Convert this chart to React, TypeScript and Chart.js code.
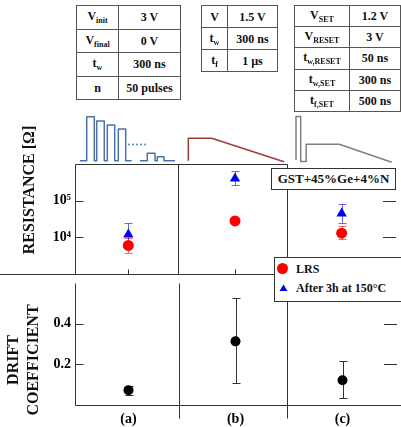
import React, { useEffect, useRef } from 'react';
import { Chart, registerables } from 'chart.js';
Chart.register(...registerables);

// ---------- data ----------
const categories = ['(a)', '(b)', '(c)'];
const categoryX = [0.5, 1.5, 2.5];
const panelDividers = [0.97, 1.985];

const lrsValues = [6000, 28000, 13000];
const lrsLow = [3800, 25500, 8800];
const lrsHigh = [9500, 31000, 20000];

const afterValues = [12000, 400000, 45000];
const afterLow = [7000, 270000, 25000];
const afterHigh = [25000, 660000, 82000];

const driftValues = [0.073, 0.313, 0.122];
const driftLow = [0.051, 0.107, 0.035];
const driftHigh = [0.094, 0.525, 0.218];

const resistanceTicks = [1e4, 1e5];
const resistanceTickLabels = ['10\u2074', '10\u2075'];
const driftTicks = [0.2, 0.4];
const driftTickLabels = ['0.2', '0.4'];

const table1Labels = [['V', 'init'], ['V', 'final'], ['t', 'w'], ['n', '']];
const table1Values = ['3 V', '0 V', '300 ns', '50 pulses'];
const table2Labels = [['V', ''], ['t', 'w'], ['t', 'f']];
const table2Values = ['1.5 V', '300 ns', '1 \u00b5s'];
const table3Labels = [['V', 'SET'], ['V', 'RESET'], ['t', 'w,RESET'], ['t', 'w,SET'], ['t', 'f,SET']];
const table3Values = ['1.2 V', '3 V', '50 ns', '300 ns', '500 ns'];

const legendLabels = ['LRS', 'After 3h at 150\u00b0C'];
const materialLabel = 'GST+45%Ge+4%N';

// ---------- styles ----------
const SERIF = "'Liberation Serif', 'Times New Roman', serif";
const LINE = '#333';

const errorBarPlugin = {
  id: 'errorBars',
  beforeDatasetsDraw(chart: any) {
    const ctx = chart.ctx;
    chart.data.datasets.forEach((ds: any, i: number) => {
      if (!ds.errLow) return;
      const meta = chart.getDatasetMeta(i);
      const ys = chart.scales.y;
      ctx.save();
      ctx.strokeStyle = ds.errColor;
      ctx.lineWidth = 1;
      meta.data.forEach((pt: any, j: number) => {
        const x = Math.round(pt.x) + 0.5;
        const y1 = Math.round(ys.getPixelForValue(ds.errLow[j])) + 0.5;
        const y2 = Math.round(ys.getPixelForValue(ds.errHigh[j])) + 0.5;
        ctx.beginPath();
        ctx.moveTo(x, y1);
        ctx.lineTo(x, y2);
        ctx.moveTo(x - 4, y1);
        ctx.lineTo(x + 4, y1);
        ctx.moveTo(x - 4, y2);
        ctx.lineTo(x + 4, y2);
        ctx.stroke();
      });
      ctx.restore();
    });
  },
};

function makeFramePlugin(kind: 'upper' | 'lower') {
  return {
    id: 'frame_' + kind,
    afterDraw(chart: any) {
      const ctx = chart.ctx;
      const { left, right, top, bottom } = chart.chartArea;
      const xs = chart.scales.x;
      const ys = chart.scales.y;
      const px = (v: number) => Math.round(v) + 0.5;
      ctx.save();
      ctx.strokeStyle = LINE;
      ctx.lineWidth = 1;
      ctx.beginPath();
      const d = panelDividers.map((v) => px(xs.getPixelForValue(v)));
      const L = px(left);
      if (kind === 'upper') {
        ctx.moveTo(L, px(top));
        ctx.lineTo(d[1], px(top));
        ctx.moveTo(L, px(top));
        ctx.lineTo(L, px(bottom));
        d.forEach((x) => {
          ctx.moveTo(x, px(top));
          ctx.lineTo(x, px(bottom));
        });
        ctx.moveTo(0, px(bottom));
        ctx.lineTo(chart.width, px(bottom));
        categoryX.forEach((v) => {
          const x = px(xs.getPixelForValue(v));
          ctx.moveTo(x, px(bottom) - 5);
          ctx.lineTo(x, px(bottom));
        });
      } else {
        ctx.moveTo(L, px(top));
        ctx.lineTo(L, px(bottom));
        ctx.moveTo(L, px(bottom));
        ctx.lineTo(chart.width, px(bottom));
        d.forEach((x) => {
          ctx.moveTo(x, px(top));
          ctx.lineTo(x, px(bottom) + 13);
        });
      }
      ys.ticks.forEach((t: any) => {
        const y = px(ys.getPixelForValue(t.value));
        ctx.moveTo(L, y);
        ctx.lineTo(L + 8, y);
        ctx.moveTo(right - 12, y);
        ctx.lineTo(right + 1, y);
      });
      ctx.stroke();
      ctx.restore();
    },
  };
}

function fixWidth(w: number) {
  return (scale: any) => {
    scale.width = w;
    scale.paddingTop = 0;
    scale.paddingBottom = 0;
    scale.paddingLeft = 0;
    scale.paddingRight = 0;
  };
}
function fixHeight(h: number) {
  return (scale: any) => {
    scale.height = h;
    scale.paddingTop = 0;
    scale.paddingBottom = 0;
    scale.paddingLeft = 0;
    scale.paddingRight = 0;
  };
}

const tickFont = { family: SERIF, size: 14, weight: 'bold' as const };

function UpperChart() {
  const ref = useRef<HTMLCanvasElement>(null);
  useEffect(() => {
    const chart = new Chart(ref.current!, {
      type: 'scatter',
      data: {
        datasets: [
          {
            label: legendLabels[0],
            data: categoryX.map((x, i) => ({ x, y: lrsValues[i] })),
            pointStyle: 'circle',
            pointRadius: 5.5,
            backgroundColor: '#ff0000',
            borderColor: '#ff0000',
            borderWidth: 0,
            errLow: lrsLow,
            errHigh: lrsHigh,
            errColor: 'rgba(255,40,40,0.7)',
          } as any,
          {
            label: legendLabels[1],
            data: categoryX.map((x, i) => ({ x, y: afterValues[i] })),
            pointStyle: 'triangle',
            pointRadius: 6,
            backgroundColor: '#0000ff',
            borderColor: '#0000ff',
            borderWidth: 0,
            errLow: afterLow,
            errHigh: afterHigh,
            errColor: 'rgba(40,40,255,0.7)',
          } as any,
        ],
      },
      options: {
        animation: false,
        responsive: false,
        events: [],
        layout: { padding: { left: 0, right: 1, top: 14, bottom: 2 } },
        plugins: { legend: { display: false }, tooltip: { enabled: false } },
        scales: {
          x: { type: 'linear', min: 0, max: 3, display: false },
          y: {
            type: 'logarithmic',
            min: 1000,
            max: 1e6,
            grid: { display: false, drawTicks: false },
            border: { display: false },
            afterBuildTicks: (s: any) => {
              s.ticks = resistanceTicks.map((value) => ({ value }));
            },
            afterFit: fixWidth(75),
            ticks: {
              padding: 4,
              color: '#000',
              font: tickFont,
              callback: (_v: any, i: number) => resistanceTickLabels[i],
            },
          },
        },
      },
      plugins: [errorBarPlugin, makeFramePlugin('upper')],
    } as any);
    return () => chart.destroy();
  }, []);
  return (
    <canvas
      ref={ref}
      width={401}
      height={130}
      style={{ position: 'absolute', left: 0, top: 150, width: 401, height: 130 }}
    />
  );
}

function LowerChart() {
  const ref = useRef<HTMLCanvasElement>(null);
  useEffect(() => {
    const chart = new Chart(ref.current!, {
      type: 'scatter',
      data: {
        datasets: [
          {
            label: 'Drift coefficient',
            data: categoryX.map((x, i) => ({ x, y: driftValues[i] })),
            pointStyle: 'circle',
            pointRadius: 5,
            backgroundColor: '#000',
            borderColor: '#000',
            borderWidth: 0,
            errLow: driftLow,
            errHigh: driftHigh,
            errColor: '#333',
          } as any,
        ],
      },
      options: {
        animation: false,
        responsive: false,
        events: [],
        layout: { padding: { left: 0, right: 1, top: 0, bottom: 0 } },
        plugins: { legend: { display: false }, tooltip: { enabled: false } },
        scales: {
          x: {
            type: 'linear',
            min: 0,
            max: 3,
            grid: { display: false, drawTicks: false },
            border: { display: false },
            afterBuildTicks: (s: any) => {
              s.ticks = categoryX.map((value) => ({ value }));
            },
            afterFit: fixHeight(22),
            ticks: {
              padding: 6,
              color: '#000',
              font: tickFont,
              maxRotation: 0,
              autoSkip: false,
              callback: (_v: any, i: number) => categories[i],
            },
          },
          y: {
            type: 'linear',
            min: 0,
            max: 0.6,
            grid: { display: false, drawTicks: false },
            border: { display: false },
            afterBuildTicks: (s: any) => {
              s.ticks = driftTicks.map((value) => ({ value }));
            },
            afterFit: fixWidth(75),
            ticks: {
              padding: 4,
              color: '#000',
              font: tickFont,
              callback: (_v: any, i: number) => driftTickLabels[i],
            },
          },
        },
      },
      plugins: [errorBarPlugin, makeFramePlugin('lower')],
    } as any);
    return () => chart.destroy();
  }, []);
  return (
    <canvas
      ref={ref}
      width={401}
      height={149}
      style={{ position: 'absolute', left: 0, top: 278, width: 401, height: 149 }}
    />
  );
}

function ParamTable(props: {
  labels: string[][];
  values: string[];
  left: number;
  top: number;
  colW: number[];
  rowH: number;
}) {
  const { labels, values, left, top, colW, rowH } = props;
  const cell: React.CSSProperties = {
    border: '1px solid #555',
    padding: 0,
    textAlign: 'center',
    verticalAlign: 'middle',
    fontFamily: SERIF,
    fontWeight: 'bold',
    fontSize: 12,
    lineHeight: '12px',
    height: rowH - 1,
    color: '#111',
  };
  return (
    <table
      style={{
        position: 'absolute',
        left,
        top,
        borderCollapse: 'collapse',
        tableLayout: 'fixed',
        width: colW[0] + colW[1],
        background: '#fff',
      }}
    >
      <tbody>
        {labels.map((lab, i) => (
          <tr key={i}>
            <td style={{ ...cell, width: colW[0] }}>
              {lab[0]}
              {lab[1] ? (
                <span style={{ fontSize: 8, position: 'relative', top: 3 }}>{lab[1]}</span>
              ) : null}
            </td>
            <td style={{ ...cell, width: colW[1] }}>{values[i]}</td>
          </tr>
        ))}
      </tbody>
    </table>
  );
}

function Waveforms() {
  return (
    <svg
      width={401}
      height={170}
      style={{ position: 'absolute', left: 0, top: 0 }}
      fill="none"
    >
      <path
        d="M80,160.7 H86.7 V116.7 H94.3 V160.7 H96.7 V121 H104.3 V160.7 H107.3 V125 H114.7 V160.7 H118.3 V129 H125.7 V160.7 H131.7 M140,160.7 H147.3 V153.3 H155 V160.7 H157.3 V156.7 H164 V160.7 H175"
        stroke="#4a72a8"
        strokeWidth={1.5}
        strokeLinejoin="round"
      />
      {[129, 133, 137, 141, 145].map((x) => (
        <circle key={x} cx={x} cy={144.5} r={0.9} fill="#4a72a8" />
      ))}
      <path
        d="M188.3,160.7 V138.3 H211.7 L284,161.7"
        stroke="#9e3b36"
        strokeWidth={1.5}
        strokeLinejoin="round"
      />
      <path
        d="M296,160 V116.5 H300.7 V161.5 H306.2 V144.3 H339.3 L391.7,162.3"
        stroke="#808080"
        strokeWidth={1.5}
        strokeLinejoin="round"
      />
    </svg>
  );
}

export default function App() {
  const titleStyle: React.CSSProperties = {
    position: 'absolute',
    fontFamily: SERIF,
    fontWeight: 'bold',
    fontSize: 16,
    color: '#111',
    whiteSpace: 'nowrap',
    transform: 'translate(-50%, -50%) rotate(-90deg)',
    textAlign: 'center',
  };
  return (
    <div style={{ position: 'absolute', left: 0, top: 0, width: 401, height: 427, overflow: 'hidden', background: '#fff' }}>
      <UpperChart />
      <LowerChart />
      <Waveforms />
      <ParamTable labels={table1Labels} values={table1Values} left={76} top={5} colW={[41, 61]} rowH={23.5} />
      <ParamTable labels={table2Labels} values={table2Values} left={201} top={5} colW={[25, 49]} rowH={22} />
      <ParamTable labels={table3Labels} values={table3Values} left={294} top={5} colW={[54, 50]} rowH={21.2} />
      <div style={{ ...titleStyle, left: 29, top: 190, lineHeight: '16px' }}>RESISTANCE [Ω]</div>
      <div style={{ ...titleStyle, left: 23, top: 360, lineHeight: '20px' }}>
        DRIFT
        <br />
        COEFFICIENT
      </div>
      <div
        style={{
          position: 'absolute',
          left: 271,
          top: 168,
          width: 125,
          height: 22,
          boxSizing: 'border-box',
          border: '1px solid #333',
          background: '#fff',
          fontFamily: SERIF,
          fontWeight: 'bold',
          fontSize: 13,
          lineHeight: '20px',
          textAlign: 'center',
          color: '#111',
        }}
      >
        {materialLabel}
      </div>
      <div
        style={{
          position: 'absolute',
          left: 274,
          top: 257,
          width: 130,
          height: 45,
          boxSizing: 'border-box',
          border: '1px solid #333',
          background: '#fff',
          fontFamily: SERIF,
          fontWeight: 'bold',
          fontSize: 12,
          color: '#111',
        }}
      >
        <svg width={20} height={44} style={{ position: 'absolute', left: 0, top: 0 }}>
          <circle cx={7.5} cy={10.5} r={5.5} fill="#ff0000" />
          <polygon points="8.5,26.5 12.5,33 4.5,33" fill="#0000ff" />
        </svg>
        <div style={{ position: 'absolute', left: 21, top: 3, lineHeight: '16px' }}>{legendLabels[0]}</div>
        <div style={{ position: 'absolute', left: 21, top: 22, lineHeight: '16px' }}>{legendLabels[1]}</div>
      </div>
    </div>
  );
}
